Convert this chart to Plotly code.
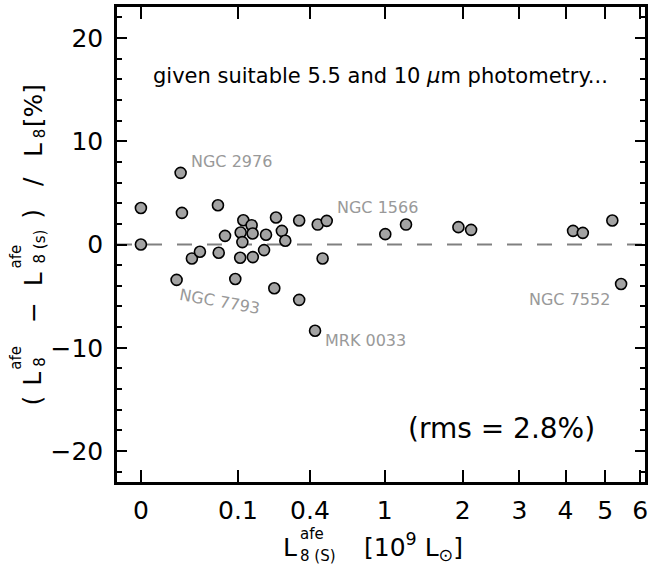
import numpy as np
import plotly.graph_objects as go

# ---------------- data ----------------
lum = [0.0, 0.0, 0.0107, 0.0116, 0.0082, 0.020, 0.0288, 0.0561, 0.0575, 0.0699,
       0.0932, 0.1057, 0.1070, 0.1116, 0.1143, 0.1389, 0.1420, 0.1427, 0.1812, 0.1885,
       0.2213, 0.2284, 0.2540, 0.2697, 0.3393, 0.3393, 0.4476, 0.5068, 0.4791, 0.4308,
       1.005, 1.232, 1.934, 2.133, 4.180, 4.420, 5.195, 5.440]
diff = [3.54, 0.0, 6.94, 3.06, -3.43, -1.35, -0.70, 3.80, -0.80, 0.84,
        -3.34, -1.28, 1.16, 0.23, 2.35, 1.87, 1.06, -1.22, -0.54, 0.94,
        -4.24, 2.61, 1.32, 0.36, -5.36, 2.32, 1.93, 2.29, -1.35, -8.35,
        1.00, 1.93, 1.68, 1.42, 1.32, 1.13, 2.32, -3.83]

label_names = ["NGC 2976", "NGC 1566", "MRK 0033", "NGC 7552", "NGC 7793"]
label_lum = [0.0107, 0.5068, 0.4308, 5.440, 0.0082]
label_diff = [6.94, 2.29, -8.35, -3.83, -3.43]

xtick_vals = [0, 0.1, 0.4, 1, 2, 3, 4, 5, 6]
xtick_text = ["0", "0.1", "0.4", "1", "2", "3", "4", "5", "6"]
ytick_vals = [-20, -10, 0, 10, 20]

POW = 0.4  # axis is stretched as x**0.4


def tr(v):
    return np.power(np.asarray(v, dtype=float), POW)


FONT = "DejaVu Sans"
GRAY_TXT = "#999999"

fig = go.Figure()
fig.add_trace(go.Scatter(
    x=tr(lum), y=diff, mode="markers",
    marker=dict(size=11, color="#a3a3a3", line=dict(color="black", width=1.6)),
    showlegend=False, hoverinfo="skip"))

fig.add_shape(type="line", xref="paper", yref="y", x0=0, x1=1, y0=0, y1=0,
              line=dict(color="#808080", width=2.2, dash="15px,15px"), layer="below")

# galaxy labels
offs = [(8, 11, "left", 0), (8, 13, "left", 0), (8, -10, "left", 0),
        (-9, -15, "right", 0), (43, -22, "center", 10)]
for name, lx, ly, (dx, dy, anc, ang) in zip(label_names, tr(label_lum), label_diff, offs):
    fig.add_annotation(x=lx, y=ly, xref="x", yref="y", text=name, showarrow=False,
                       xanchor=anc, yanchor="middle", xshift=dx, yshift=dy, textangle=ang,
                       font=dict(family=FONT, size=16, color=GRAY_TXT))

L, R, T, B = 117, 645, 4, 482


def px(p):
    return (p - L) / (R - L)


def py(p):
    return (B - p) / (B - T)


def ann(text, x, y, size, angle=0, anchor="center"):
    fig.add_annotation(x=px(x), y=py(y), xref="paper", yref="paper", text=text,
                       showarrow=False, xanchor=anchor, yanchor="middle", textangle=angle,
                       font=dict(family=FONT, size=size, color="black"))


ann("given suitable 5.5 and 10 <i>μ</i>m photometry...", 380, 73, 21)
ann("(rms = 2.8%)", 501, 428, 28)

# x-axis title pieces
ann("L", 290, 548, 25)
ann("afe", 298, 534, 15, anchor="left")
ann("8 (S)", 298, 556, 15, anchor="left")
ann("[10<sup>9</sup> L<sub>⊙</sub>]", 413, 547, 25)

# y-axis title pieces (rotated)
ann("(", 33, 400, 25, -90)
ann("L", 33, 378, 25, -90)
ann("afe", 16, 357, 15, -90)
ann("8", 40, 361, 15, -90)
ann("−", 33, 312, 25, -90)
ann("L", 33, 278, 25, -90)
ann("afe", 16, 255, 15, -90)
ann("8 (s)", 40, 245, 15, -90)
ann(")", 33, 212, 25, -90)
ann("/", 33, 180, 25, -90)
ann("L", 33, 148, 25, -90)
ann("8", 40, 131, 15, -90)
ann("[%]", 33, 104, 25, -90)

fig.update_xaxes(range=[-0.098, 2.067], tickvals=tr(xtick_vals), ticktext=xtick_text,
                 ticks="inside", ticklen=12, tickwidth=2, tickcolor="black",
                 showline=True, linewidth=2.5, linecolor="black", mirror="ticks",
                 showgrid=False, zeroline=False, ticklabelstandoff=4,
                 tickfont=dict(family=FONT, size=25, color="black"))
fig.update_yaxes(range=[-23, 23], tickvals=ytick_vals,
                 ticks="inside", ticklen=10, tickwidth=2, tickcolor="black",
                 minor=dict(dtick=2, ticks="inside", ticklen=5, tickwidth=2, tickcolor="black"),
                 showline=True, linewidth=2.5, linecolor="black", mirror="allticks",
                 showgrid=False, zeroline=False, ticklabelstandoff=6,
                 tickfont=dict(family=FONT, size=25, color="black"))

fig.update_layout(width=667, height=566, margin=dict(l=L, r=667 - R, t=T, b=566 - B),
                  plot_bgcolor="white", paper_bgcolor="white", showlegend=False)

fig.write_html("out.html")
